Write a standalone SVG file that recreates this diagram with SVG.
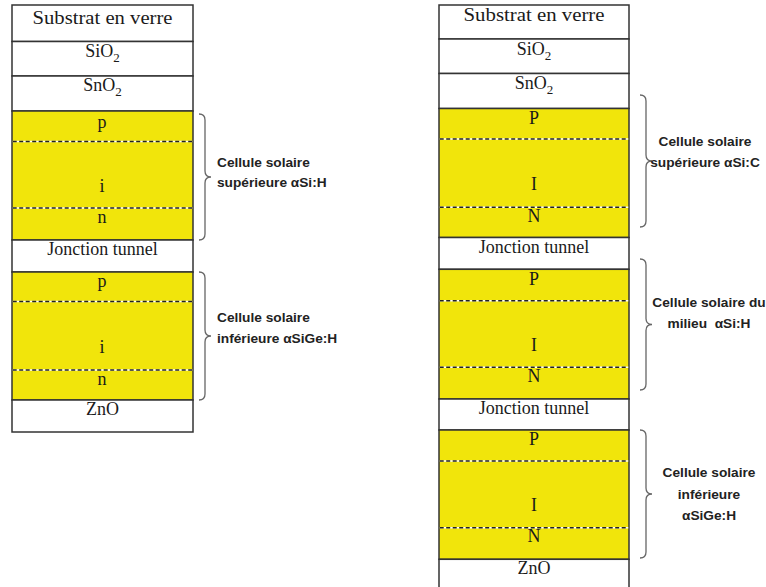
<svg xmlns="http://www.w3.org/2000/svg" width="766" height="587" viewBox="0 0 766 587">
<defs>
<style>
.w{fill:#ffffff;stroke:#333333;stroke-width:1.5}
.y{fill:#f1e50b;stroke:#333333;stroke-width:1.5}
.dw{stroke:#ffffff;stroke-width:1.4}
.dk{stroke:#222222;stroke-width:1.4;stroke-dasharray:4 2.5}
.t{font-family:"Liberation Serif","Times New Roman",serif;font-size:18px;fill:#1a1a1a;text-anchor:middle}
.s{font-size:13px}
.b{font-family:"Liberation Sans",Arial,sans-serif;font-size:13.7px;font-weight:bold;fill:#222222}
.bc{text-anchor:middle}
.br{fill:none;stroke:#666666;stroke-width:1.3}
</style>
</defs>
<rect width="766" height="587" fill="#ffffff"/>

<!-- Left stack -->
<g id="L-substrat"><rect class="w" x="12" y="5" width="181" height="36.5"/><text class="t" x="102.5" y="24" textLength="140" lengthAdjust="spacingAndGlyphs">Substrat en verre</text></g>
<g id="L-sio2"><rect class="w" x="12" y="41.5" width="181" height="34.5"/><text class="t" x="102.5" y="57">SiO<tspan class="s" dy="5">2</tspan></text></g>
<g id="L-sno2"><rect class="w" x="12" y="76" width="181" height="35"/><text class="t" x="102.5" y="91">SnO<tspan class="s" dy="5">2</tspan></text></g>
<g id="L-cell1">
<rect class="y" x="12" y="111" width="181" height="129"/>
<line class="dw" x1="12.7" y1="141.5" x2="192.3" y2="141.5"/><line class="dk" x1="12.7" y1="141.5" x2="192.3" y2="141.5"/>
<line class="dw" x1="12.7" y1="208" x2="192.3" y2="208"/><line class="dk" x1="12.7" y1="208" x2="192.3" y2="208"/>
<text class="t" x="102" y="127.5">p</text>
<text class="t" x="102" y="191.5">i</text>
<text class="t" x="102" y="223">n</text>
</g>
<g id="L-tunnel"><rect class="w" x="12" y="240" width="181" height="32"/><text class="t" x="102.5" y="255">Jonction tunnel</text></g>
<g id="L-cell2">
<rect class="y" x="12" y="272" width="181" height="128"/>
<line class="dw" x1="12.7" y1="301.5" x2="192.3" y2="301.5"/><line class="dk" x1="12.7" y1="301.5" x2="192.3" y2="301.5"/>
<line class="dw" x1="12.7" y1="370" x2="192.3" y2="370"/><line class="dk" x1="12.7" y1="370" x2="192.3" y2="370"/>
<text class="t" x="102" y="287">p</text>
<text class="t" x="102" y="352.5">i</text>
<text class="t" x="102" y="385">n</text>
</g>
<g id="L-zno"><rect class="w" x="12" y="400" width="181" height="32"/><text class="t" x="102.5" y="415">ZnO</text></g>

<!-- Right stack -->
<g id="R-substrat"><rect class="w" x="439" y="5" width="190" height="34"/><text class="t" x="534" y="21" textLength="141" lengthAdjust="spacingAndGlyphs">Substrat en verre</text></g>
<g id="R-sio2"><rect class="w" x="439" y="39" width="190" height="34.5"/><text class="t" x="534" y="55">SiO<tspan class="s" dy="5">2</tspan></text></g>
<g id="R-sno2"><rect class="w" x="439" y="73.5" width="190" height="35"/><text class="t" x="534" y="89">SnO<tspan class="s" dy="5">2</tspan></text></g>
<g id="R-cell1">
<rect class="y" x="439" y="108.5" width="190" height="129"/>
<line class="dw" x1="439.7" y1="139" x2="628.3" y2="139"/><line class="dk" x1="439.7" y1="139" x2="628.3" y2="139"/>
<line class="dw" x1="439.7" y1="207.3" x2="628.3" y2="207.3"/><line class="dk" x1="439.7" y1="207.3" x2="628.3" y2="207.3"/>
<text class="t" x="534" y="123.5">P</text>
<text class="t" x="534" y="189.5">I</text>
<text class="t" x="534" y="222">N</text>
</g>
<g id="R-tunnel1"><rect class="w" x="439" y="237.5" width="190" height="31.8"/><text class="t" x="534" y="252.5">Jonction tunnel</text></g>
<g id="R-cell2">
<rect class="y" x="439" y="269.3" width="190" height="129.7"/>
<line class="dw" x1="439.7" y1="300.7" x2="628.3" y2="300.7"/><line class="dk" x1="439.7" y1="300.7" x2="628.3" y2="300.7"/>
<line class="dw" x1="439.7" y1="367.3" x2="628.3" y2="367.3"/><line class="dk" x1="439.7" y1="367.3" x2="628.3" y2="367.3"/>
<text class="t" x="534" y="284.5">P</text>
<text class="t" x="534" y="351">I</text>
<text class="t" x="534" y="382">N</text>
</g>
<g id="R-tunnel2"><rect class="w" x="439" y="399" width="190" height="31"/><text class="t" x="534" y="413.5">Jonction tunnel</text></g>
<g id="R-cell3">
<rect class="y" x="439" y="430" width="190" height="129.3"/>
<line class="dw" x1="439.7" y1="461" x2="628.3" y2="461"/><line class="dk" x1="439.7" y1="461" x2="628.3" y2="461"/>
<line class="dw" x1="439.7" y1="527.7" x2="628.3" y2="527.7"/><line class="dk" x1="439.7" y1="527.7" x2="628.3" y2="527.7"/>
<text class="t" x="534" y="444.5">P</text>
<text class="t" x="534" y="511">I</text>
<text class="t" x="534" y="542">N</text>
</g>
<g id="R-zno"><rect class="w" x="439" y="559.3" width="190" height="40"/><text class="t" x="534" y="574">ZnO</text></g>

<!-- Braces -->
<g id="connectors">
<path class="br" d="M199,114 Q205,114 205,120 L205,171 Q205,177 211,177 Q205,177 205,183 L205,234 Q205,240 199,240"/>
<path class="br" d="M199,272 Q205,272 205,278 L205,330 Q205,336 211,336 Q205,336 205,342 L205,394 Q205,400 199,400"/>
<path class="br" d="M640,95 Q646,95 646,101 L646,155 Q646,161 652,161 Q646,161 646,167 L646,221 Q646,227 640,227"/>
<path class="br" d="M640,259 Q646,259 646,265 L646,318.5 Q646,324.5 652,324.5 Q646,324.5 646,330.5 L646,384 Q646,390 640,390"/>
<path class="br" d="M640,430 Q646,430 646,436 L646,488 Q646,494 652,494 Q646,494 646,500 L646,552 Q646,558 640,558"/>
</g>

<!-- Labels -->
<g id="label-L1"><text class="b" x="217" y="166.5">Cellule solaire</text><text class="b" x="217" y="187">supérieure αSi:H</text></g>
<g id="label-L2"><text class="b" x="217" y="321.5">Cellule solaire</text><text class="b" x="217" y="342.5">inférieure αSiGe:H</text></g>
<g id="label-R1"><text class="b bc" x="705" y="146">Cellule solaire</text><text class="b bc" x="705" y="167">supérieure αSi:C</text></g>
<g id="label-R2"><text class="b bc" x="709" y="306.5">Cellule solaire du</text><text class="b bc" x="709" y="327.5" xml:space="preserve">milieu  αSi:H</text></g>
<g id="label-R3"><text class="b bc" x="709" y="476.5">Cellule solaire</text><text class="b bc" x="709" y="499">inférieure</text><text class="b bc" x="709" y="520">αSiGe:H</text></g>
</svg>
